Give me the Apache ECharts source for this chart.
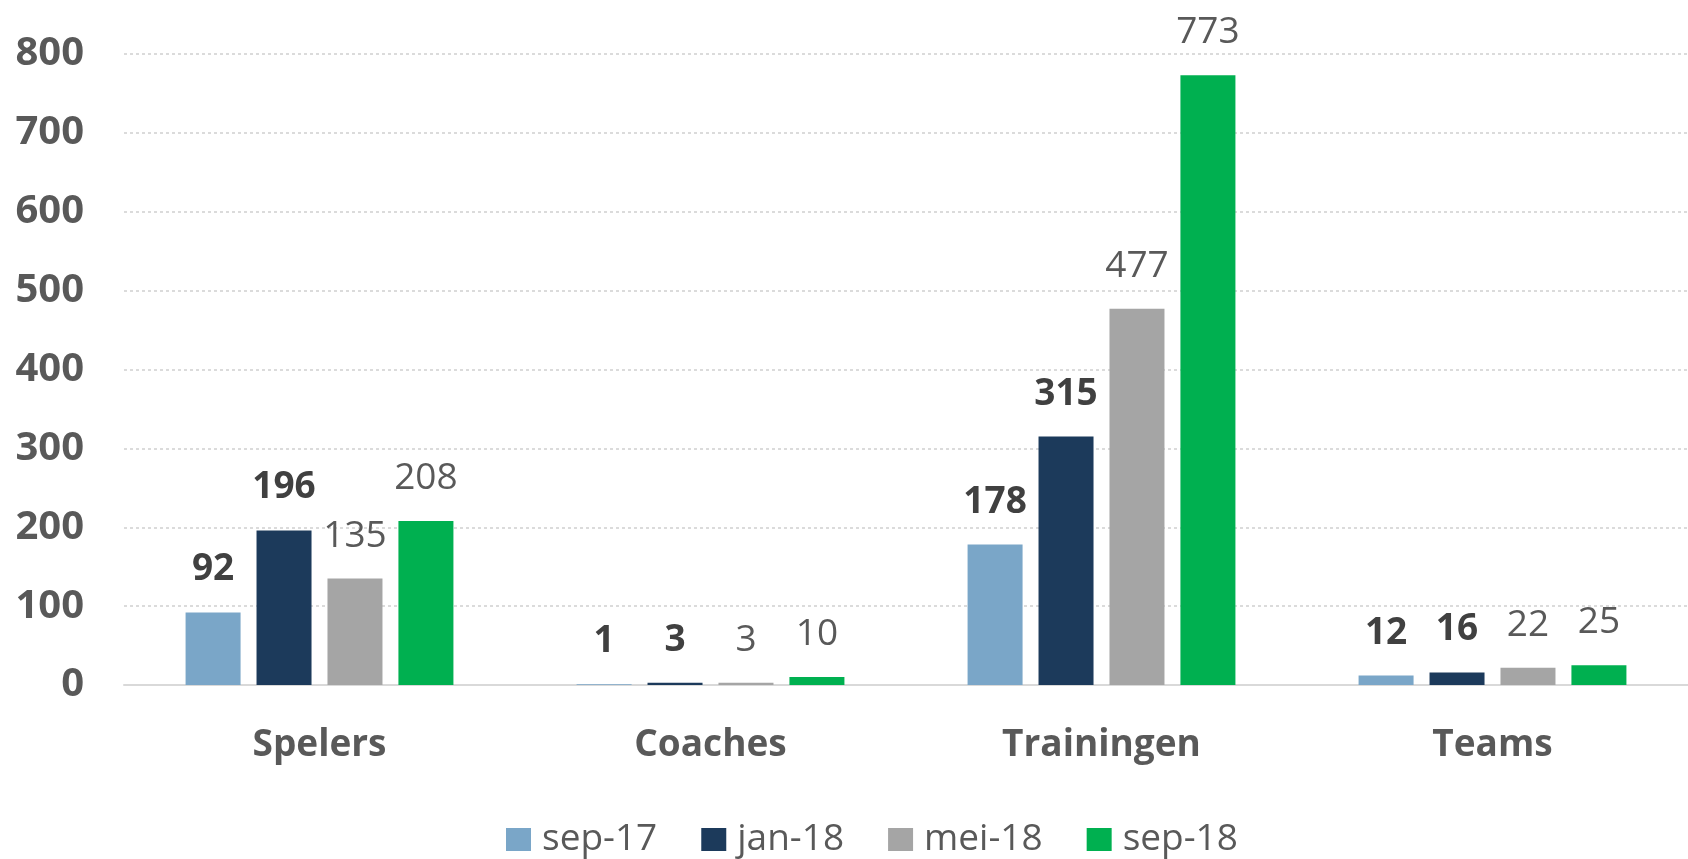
<!DOCTYPE html>
<html>
<head>
<meta charset="utf-8">
<script src="https://cdn.jsdelivr.net/npm/echarts@6/dist/echarts.min.js"></script>
<style>html,body{margin:0;padding:0;background:#fff}#c{width:1688px;height:859px}</style>
</head>
<body>
<div id="c"></div>
<script>
const categories = ['Spelers', 'Coaches', 'Trainingen', 'Teams'];
const seriesNames = ['sep-17', 'jan-18', 'mei-18', 'sep-18'];
const sep17 = [92, 1, 178, 12];
const jan18 = [196, 3, 315, 16];
const mei18 = [135, 3, 477, 22];
const sep18 = [208, 10, 773, 25];
const yTicks = [0, 100, 200, 300, 400, 500, 600, 700, 800];

const colors = ['#7AA6C8', '#1C3A5B', '#A5A5A5', '#00B050'];
const boldLabel = [true, true, false, false];
const values = [sep17, jan18, mei18, sep18];
const FONT = '"Open Sans", "Noto Sans", sans-serif';

const chart = echarts.init(document.getElementById('c'));
chart.setOption({
  animation: false,
  backgroundColor: '#ffffff',
  grid: { left: 124, width: 1569, top: 54, bottom: 174, containLabel: false },
  legend: {
    top: 816,
    left: 501,
    itemWidth: 25,
    itemHeight: 23,
    itemGap: 44,
    icon: 'rect',
    textStyle: { fontFamily: FONT, fontSize: 37, color: '#595959', padding: [0, 0, 0, 6] },
    data: seriesNames
  },
  xAxis: {
    type: 'category',
    data: categories,
    axisLine: { show: true, lineStyle: { color: '#D9D9D9', width: 2 } },
    axisTick: { show: false },
    axisLabel: { fontFamily: FONT, fontSize: 37, fontWeight: 'bold', color: '#595959', margin: 42 }
  },
  yAxis: {
    type: 'value',
    min: yTicks[0],
    max: yTicks[yTicks.length - 1],
    interval: 100,
    axisLine: { show: false },
    axisTick: { show: false },
    axisLabel: { fontFamily: FONT, fontSize: 40, fontWeight: 'bold', color: '#595959', margin: 40 },
    splitLine: { lineStyle: { color: '#D0D0D0', type: [3, 3], width: 1.5 } }
  },
  series: seriesNames.map((name, i) => ({
    name: name,
    type: 'bar',
    data: values[i],
    barWidth: 55,
    barGap: '29%',
    itemStyle: { color: colors[i] },
    label: {
      show: true,
      position: 'top',
      distance: 24,
      fontFamily: FONT,
      fontSize: 37,
      fontWeight: boldLabel[i] ? 'bold' : 'normal',
      color: boldLabel[i] ? '#404040' : '#595959'
    }
  }))
});
</script>
</body>
</html>
